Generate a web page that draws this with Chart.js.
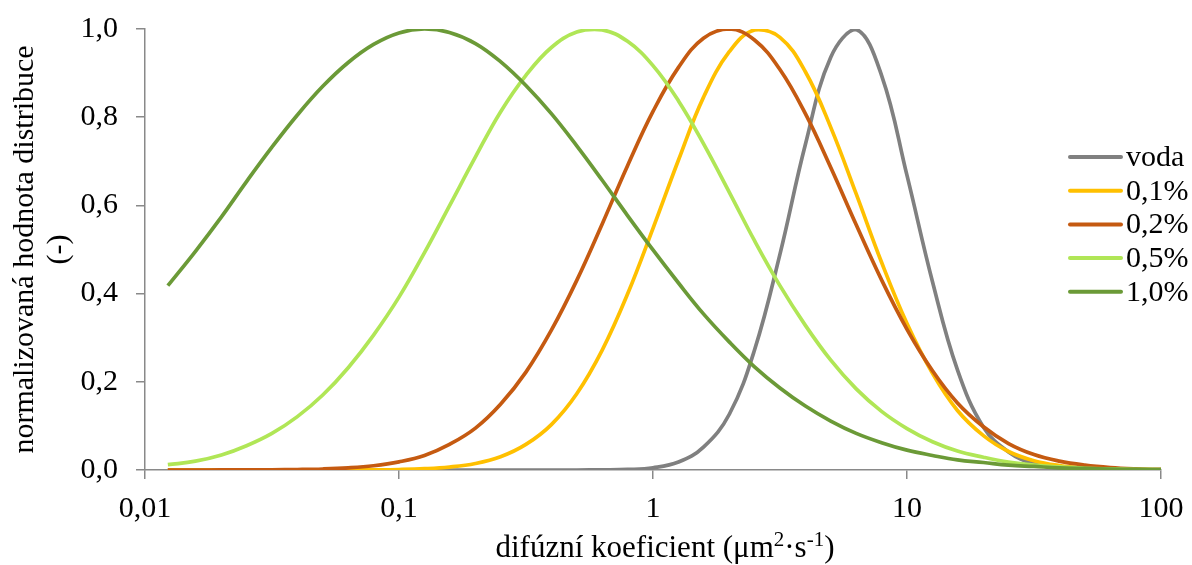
<!DOCTYPE html>
<html>
<head>
<meta charset="utf-8">
<script src="https://cdn.jsdelivr.net/npm/chart.js@4.4.1/dist/chart.umd.min.js"></script>
<style>
  html, body { margin: 0; padding: 0; background: #fff; }
  canvas { display: block; }
</style>
</head>
<body>
<canvas id="chart" width="1192" height="565"></canvas>
<script>
// Diffusion coefficients (um2/s), 0.1 decade steps
const diffCoef = [0.0123, 0.0158, 0.02, 0.0251, 0.0316, 0.0398, 0.0501, 0.0631, 0.0794, 0.1,
    0.126, 0.158, 0.2, 0.251, 0.316, 0.398, 0.501, 0.631, 0.794, 1,
    1.26, 1.58, 2, 2.51, 3.16, 3.98, 5.01, 6.31, 7.94, 10,
    12.6, 15.8, 20, 25.1, 31.6, 39.8, 50.1, 63.1, 79.4, 100];

// Normalized distributions
const voda = [0, 0, 0, 0, 0, 0, 0, 0, 0, 0,
    0, 0, 0, 0, 0, 0, 0, 0.0003, 0.0012, 0.005,
    0.018, 0.052, 0.127, 0.272, 0.489, 0.738, 0.936, 0.999, 0.895, 0.668,
    0.427, 0.227, 0.097, 0.041, 0.014, 0.004, 0.001, 0, 0, 0];
const c01 = [0, 0, 0, 0, 0, 0, 0.0001, 0.0002, 0.0004, 0.0011,
    0.0029, 0.0067, 0.0147, 0.030, 0.058, 0.103, 0.173, 0.272, 0.399, 0.548,
    0.703, 0.845, 0.949, 0.998, 0.981, 0.903, 0.777, 0.626, 0.471, 0.332,
    0.219, 0.135, 0.078, 0.042, 0.021, 0.010, 0.0044, 0.0018, 0.0007, 0.0003];
const c02 = [0, 0, 0.0001, 0.0002, 0.0005, 0.0011, 0.0023, 0.0049, 0.0097, 0.0185,
    0.033, 0.058, 0.095, 0.149, 0.222, 0.317, 0.430, 0.558, 0.690, 0.813,
    0.913, 0.979, 1.0, 0.975, 0.908, 0.808, 0.686, 0.556, 0.431, 0.319,
    0.225, 0.152, 0.098, 0.060, 0.035, 0.020, 0.011, 0.0055, 0.0026, 0.0012];
const c05 = [0.012, 0.020, 0.034, 0.055, 0.083, 0.121, 0.170, 0.232, 0.306, 0.392,
    0.493, 0.599, 0.710, 0.812, 0.895, 0.958, 0.993, 0.998, 0.972, 0.917,
    0.837, 0.740, 0.629, 0.520, 0.418, 0.328, 0.249, 0.184, 0.133, 0.094,
    0.064, 0.043, 0.029, 0.018, 0.011, 0.007, 0.004, 0.0025, 0.0015, 0.001];
const c10 = [0.418, 0.496, 0.574, 0.654, 0.732, 0.805, 0.870, 0.924, 0.965, 0.991,
    1.0, 0.992, 0.967, 0.926, 0.872, 0.808, 0.735, 0.657, 0.577, 0.499,
    0.424, 0.354, 0.290, 0.234, 0.186, 0.145, 0.111, 0.083, 0.062, 0.045,
    0.033, 0.023, 0.017, 0.011, 0.008, 0.005, 0.0035, 0.0022, 0.0014, 0.001];

const seriesNames = ['voda', '0,1%', '0,2%', '0,5%', '1,0%'];
const seriesValues = [voda, c01, c02, c05, c10];
const seriesColors = ['#808080', '#ffc000', '#c55a11', '#b0e656', '#6b9a37'];

const xTickValues = [0.01, 0.1, 1, 10, 100];
const xTickLabels = ['0,01', '0,1', '1', '10', '100'];
const yTickLabels = ['0,0', '0,2', '0,4', '0,6', '0,8', '1,0'];

const FONT = "'Times New Roman', 'Liberation Serif', serif";
const FONT_SIZE = 30;
const AXIS_GREY = '#898989';

// Titles and legend drawn by hand (superscripts, legend inside the plot)
const annotations = {
    id: 'annotations',
    afterDraw(chart) {
        const ctx = chart.ctx;
        const area = chart.chartArea;
        ctx.save();
        ctx.fillStyle = '#000';

        // y axis title, two lines
        const midY = (area.top + area.bottom) / 2;
        ctx.font = FONT_SIZE + 'px ' + FONT;
        ctx.textAlign = 'center';
        ctx.textBaseline = 'alphabetic';
        [['normalizovaná hodnota distribuce', 33], ['(-)', 67]].forEach(([txt, bx]) => {
            ctx.save();
            ctx.translate(bx, midY);
            ctx.rotate(-Math.PI / 2);
            ctx.fillText(txt, 0, 0);
            ctx.restore();
        });

        // x axis title with superscripts
        const parts = [
            ['difúzní koeficient (μm', false],
            ['2', true],
            ['·s', false],
            ['-1', true],
            [')', false]
        ];
        const titleSize = 31;
        const supSize = 21;
        let total = 0;
        parts.forEach(([t, sup]) => {
            ctx.font = (sup ? supSize : titleSize) + 'px ' + FONT;
            total += ctx.measureText(t).width;
        });
        let x = 665 - total / 2;
        const baseY = 557;
        ctx.textAlign = 'left';
        parts.forEach(([t, sup]) => {
            ctx.font = (sup ? supSize : titleSize) + 'px ' + FONT;
            ctx.fillText(t, x, sup ? baseY - 11 : baseY);
            x += ctx.measureText(t).width;
        });

        // legend
        ctx.font = FONT_SIZE + 'px ' + FONT;
        ctx.textBaseline = 'middle';
        ctx.lineWidth = 4;
        ctx.lineCap = 'round';
        seriesNames.forEach((name, i) => {
            const y = 157 + i * 33.7;
            ctx.strokeStyle = seriesColors[i];
            ctx.beginPath();
            ctx.moveTo(1070, y);
            ctx.lineTo(1121, y);
            ctx.stroke();
            ctx.fillText(name, 1126, y + 1);
        });
        ctx.restore();
    }
};

const datasets = seriesNames.map((name, i) => ({
    label: name,
    data: diffCoef.map((d, j) => ({ x: d, y: seriesValues[i][j] })),
    borderColor: seriesColors[i],
    backgroundColor: seriesColors[i],
    borderWidth: 3.7,
    pointRadius: 0,
    fill: false,
    tension: 0.4,
    order: seriesNames.length - i
}));

new Chart(document.getElementById('chart'), {
    type: 'line',
    data: { datasets },
    plugins: [annotations],
    options: {
        responsive: false,
        animation: false,
        layout: { padding: { left: 0, right: 31, top: 29, bottom: 0 } },
        plugins: {
            legend: { display: false },
            tooltip: { enabled: false }
        },
        scales: {
            x: {
                type: 'logarithmic',
                min: 0.01,
                max: 100,
                afterBuildTicks: scale => {
                    scale.ticks = xTickValues.map(v => ({ value: v }));
                },
                afterFit: scale => {
                    scale.height = 95;
                    scale.paddingLeft = 0;
                    scale.paddingRight = 0;
                },
                ticks: {
                    autoSkip: false,
                    maxRotation: 0,
                    padding: 12,
                    color: '#000',
                    font: { family: FONT, size: FONT_SIZE },
                    callback: (value, index) => xTickLabels[index]
                },
                grid: {
                    display: true,
                    drawOnChartArea: false,
                    drawTicks: true,
                    tickLength: 9,
                    color: AXIS_GREY,
                    lineWidth: 1.5
                },
                border: { display: true, color: AXIS_GREY, width: 1.5 }
            },
            y: {
                min: 0,
                max: 1,
                afterFit: scale => {
                    scale.width = 145;
                    scale.paddingTop = 0;
                    scale.paddingBottom = 0;
                },
                ticks: {
                    stepSize: 0.2,
                    padding: 18,
                    color: '#000',
                    font: { family: FONT, size: FONT_SIZE },
                    callback: (value, index) => yTickLabels[index]
                },
                grid: {
                    display: true,
                    drawOnChartArea: false,
                    drawTicks: true,
                    tickLength: 9,
                    color: AXIS_GREY,
                    lineWidth: 1.5
                },
                border: { display: true, color: AXIS_GREY, width: 1.5 }
            }
        }
    }
});
</script>
</body>
</html>
